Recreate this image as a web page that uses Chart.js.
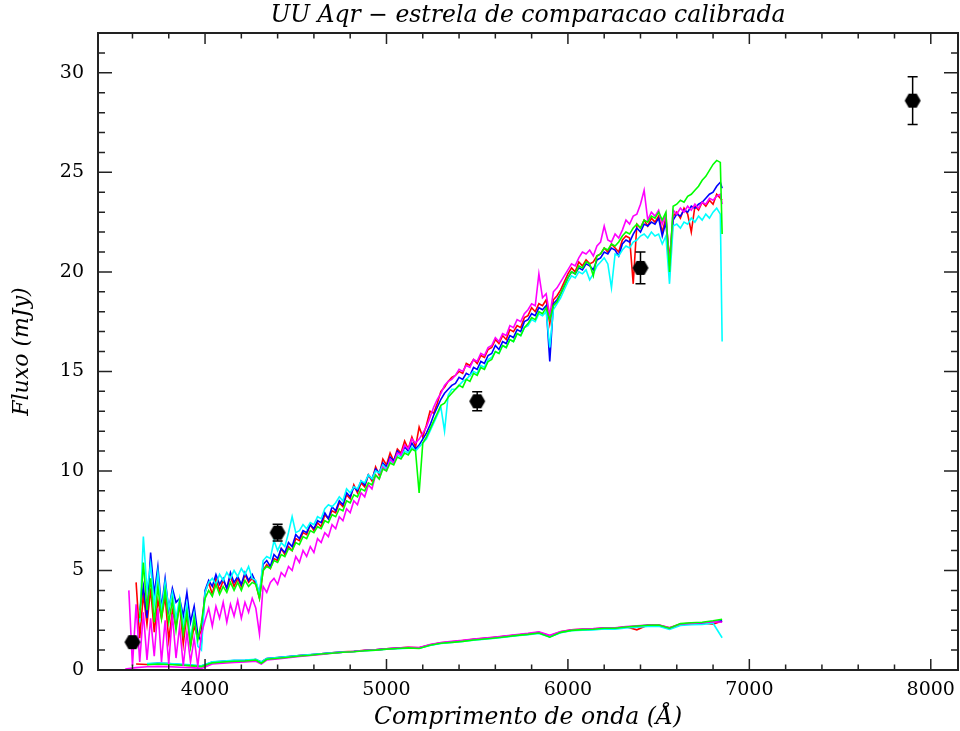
<!DOCTYPE html>
<html><head><meta charset="utf-8">
<script src="https://cdn.jsdelivr.net/npm/chart.js@4/dist/chart.umd.min.js"></script>
<style>html,body{margin:0;padding:0;background:#fff}canvas{display:block}</style>
</head><body>
<canvas id="c" width="960" height="731"></canvas>
<script>
// ---- data (wavelength in Angstrom, flux in mJy) ----
const lamU=[3580,3600,3620,3640,3660,3680,3700,3720,3740,3760,
3780,3800,3820,3840,3860,3880,3900,3920,3940,3960,
3980,4000,4020,4040,4060,4080,4100,4120,4140,4160,
4180,4200,4220,4240,4260,4280,4300,4320,4340,4360,
4380,4400,4420,4440,4460,4480,4500,4520,4540,4560,
4580,4600,4620,4640,4660,4680,4700,4720,4740,4760,
4780,4800,4820,4840,4860,4880,4900,4920,4940,4960,
4980,5000,5020,5040,5060,5080,5100,5120,5140,5160,
5180,5200,5220,5240,5260,5280,5300,5320,5340,5360,
5380,5400,5420,5440,5460,5480,5500,5520,5540,5560,
5580,5600,5620,5640,5660,5680,5700,5720,5740,5760,
5780,5800,5820,5840,5860,5880,5900,5920,5940,5960,
5980,6000,6020,6040,6060,6080,6100,6120,6140,6160,
6180,6200,6220,6240,6260,6280,6300,6320,6340,6360,
6380,6400,6420,6440,6460,6480,6500,6520,6540,6560,
6580,6600,6620,6640,6660,6680,6700,6720,6740,6760,
6780,6800,6820,6840,6850];
const redU=[null,null,4.4,1.6,3.8,2.3,4.1,1.9,3.5,2.6,
3.7,1.5,3.0,2.2,3.3,1.3,2.8,1.2,2.2,1.6,
2.0,3.9,4.4,3.8,4.6,4.0,4.5,4.1,4.7,4.2,
4.6,4.2,4.8,4.4,4.6,4.3,3.6,5.0,5.3,5.1,
5.6,5.5,6.1,5.8,6.2,6.0,6.6,6.5,6.9,6.8,
7.3,7.0,7.4,7.2,7.8,7.6,8.0,7.9,8.4,8.2,
8.8,8.6,9.3,8.9,9.4,9.2,9.8,9.5,10.2,9.8,
10.6,10.3,10.9,10.5,11.1,10.9,11.5,11.1,11.7,11.2,
12.2,11.7,12.3,13.0,12.9,13.4,14.0,14.2,14.5,14.7,
14.8,15.0,14.9,15.4,15.3,15.6,15.4,15.8,15.7,16.1,
16.2,16.6,16.4,16.8,16.6,17.1,17.0,17.3,17.2,17.7,
17.8,18.2,18.0,18.4,18.3,18.6,17.4,18.6,18.8,19.1,
19.5,19.9,20.2,20.0,20.5,20.3,20.6,20.4,20.5,20.8,
20.9,21.2,21.0,21.4,21.2,21.0,21.6,21.8,21.7,19.4,
22.4,22.2,22.6,22.3,22.7,22.5,22.8,22.0,22.7,20.6,
22.8,23.0,22.7,23.2,22.9,22.0,23.3,23.1,23.5,23.3,
23.6,23.4,23.9,23.7,23.6];
const blueU=[null,null,null,3.0,4.2,2.6,5.9,3.8,5.2,3.1,
4.6,3.0,4.1,3.4,3.6,2.7,3.9,2.4,3.2,1.8,
1.4,4.0,4.5,4.2,4.8,4.3,4.6,4.1,4.9,4.4,
4.7,4.3,4.9,4.5,4.8,4.4,3.8,5.3,5.5,5.2,
5.8,5.6,6.1,5.9,6.4,6.2,6.8,6.6,7.0,6.9,
7.3,7.1,7.5,7.4,7.9,7.6,8.2,8.0,8.5,8.3,
8.9,8.7,9.2,9.0,9.5,9.3,9.8,9.6,10.1,9.9,
10.4,10.2,10.7,10.5,11.0,10.8,11.2,11.0,11.4,11.1,
11.3,11.6,11.9,12.3,12.8,13.2,13.6,13.9,14.1,14.3,
14.4,14.7,14.6,14.9,14.8,15.2,15.1,15.5,15.4,15.8,
15.9,16.3,16.1,16.5,16.4,16.8,16.7,17.1,17.0,17.5,
17.6,17.9,17.8,18.2,18.1,18.3,15.5,18.4,18.6,18.9,
19.3,19.7,20.0,19.9,20.2,20.1,20.4,20.3,20.1,20.6,
20.7,21.0,20.9,21.2,21.1,20.8,21.4,21.6,21.5,21.9,
22.2,22.0,22.4,22.3,22.5,22.4,22.7,21.8,22.5,20.3,
22.6,22.9,22.8,23.1,23.0,23.3,23.2,23.4,23.5,23.7,
23.9,24.0,24.3,24.5,24.2];
const cyanU=[null,null,null,2.4,6.7,4.0,5.3,3.3,4.9,2.9,
4.4,3.1,3.9,2.6,3.6,2.2,3.3,1.5,2.8,1.2,
1.0,3.9,4.4,4.6,4.3,4.8,4.5,4.9,4.6,5.0,
4.7,5.1,4.8,5.2,4.6,4.5,3.8,5.5,5.7,5.6,
6.5,6.0,6.4,6.2,6.9,7.7,6.9,7.0,7.3,7.1,
7.4,7.3,7.7,7.6,8.1,8.3,8.2,8.4,8.7,8.5,
9.1,8.9,9.2,9.1,9.5,9.4,9.8,9.6,10.0,9.9,
10.3,10.1,10.5,10.4,10.8,10.7,11.0,10.9,11.2,11.0,
11.2,11.4,11.6,12.0,12.4,12.8,13.2,12.0,13.8,14.1,
14.1,14.3,14.5,14.6,14.8,15.0,14.9,15.3,15.2,15.6,
15.7,16.0,15.9,16.3,16.2,16.6,16.5,16.9,16.8,17.2,
17.3,17.6,17.5,17.9,17.8,18.0,16.2,18.1,18.4,18.7,
19.1,19.5,19.8,19.7,20.0,19.9,20.1,19.6,19.9,20.3,
20.5,20.7,20.4,19.2,20.9,20.8,21.1,21.3,21.2,21.5,
21.6,21.8,21.9,21.7,22.0,21.8,21.9,21.4,21.8,19.4,
22.3,22.4,22.2,22.5,22.4,22.7,22.5,22.8,22.6,22.9,
22.7,23.0,23.2,22.9,16.5];
const magentaU=[4.0,0.2,3.3,0.4,2.9,0.5,2.6,0.7,3.1,0.4,
2.5,0.3,2.8,0.6,2.2,0.2,1.9,0.4,1.6,0.2,
1.8,2.5,3.1,2.2,3.2,2.6,3.4,2.4,3.3,2.7,
3.5,2.6,3.4,2.9,3.6,3.1,1.8,4.2,3.9,4.4,
4.6,4.3,4.9,4.7,5.2,5.0,5.7,5.4,6.0,5.7,
6.2,5.9,6.6,6.4,6.9,6.7,7.3,7.1,7.7,7.5,
8.1,7.9,8.5,8.3,8.9,8.7,9.3,9.1,9.8,9.6,
10.2,10.0,10.6,10.4,10.9,10.8,11.3,11.1,11.6,11.4,
11.6,11.9,12.2,12.7,13.2,13.6,13.9,14.3,14.5,14.6,
14.8,15.1,15.0,15.3,15.2,15.6,15.5,15.9,15.8,16.2,
16.3,16.7,16.5,16.9,16.8,17.3,17.2,17.6,17.5,17.9,
18.1,18.4,18.3,19.9,18.7,18.9,17.8,19.0,19.2,19.5,
19.8,20.1,20.4,20.3,20.7,21.0,20.9,21.1,20.8,21.3,
21.5,22.3,21.6,21.5,21.9,21.7,22.1,22.6,22.4,22.8,
22.9,23.4,24.1,22.6,23.0,22.8,23.1,22.4,22.9,20.3,
23.1,22.9,23.2,23.0,23.3,23.1,23.4,23.2,23.5,23.4,
23.7,23.6,23.8,23.9,23.4];
const greenU=[null,null,null,2.6,5.4,3.0,4.6,2.4,4.2,2.6,
4.0,2.4,3.5,2.0,3.4,1.8,2.9,1.2,2.6,1.5,
2.4,3.6,4.0,3.7,4.3,3.8,4.2,3.9,4.4,4.0,
4.4,4.0,4.5,4.2,4.4,4.3,3.6,5.0,5.2,5.1,
5.5,5.4,5.8,5.7,6.1,6.0,6.4,6.3,6.7,6.6,
7.0,6.9,7.2,7.1,7.5,7.4,7.8,7.7,8.1,8.0,
8.5,8.4,8.8,8.7,9.1,9.0,9.4,9.3,9.8,9.6,
10.1,10.0,10.4,10.3,10.7,10.6,10.9,10.8,11.1,11.0,
8.9,11.4,11.7,12.1,12.5,12.9,13.3,13.4,13.7,13.9,
14.1,14.3,14.2,14.6,14.5,14.9,14.8,15.2,15.1,15.5,
15.6,16.0,15.9,16.3,16.2,16.6,16.5,16.9,16.8,17.2,
17.4,17.7,17.6,18.0,17.9,18.2,17.6,18.3,18.5,18.9,
19.3,19.7,20.0,19.9,20.3,20.2,20.5,20.4,19.8,20.8,
20.9,21.2,21.1,21.4,21.3,21.5,21.8,22.0,21.9,22.2,
22.4,22.2,22.6,22.5,22.8,22.7,23.0,22.6,23.0,20.0,
23.3,23.4,23.6,23.5,23.8,23.9,24.1,24.3,24.6,24.8,
25.1,25.4,25.6,25.5,21.9];

const lamL=[3560,3620,3680,3740,3800,3860,3920,3980,4040,4100,
4160,4220,4280,4310,4340,4400,4460,4520,4580,4640,
4700,4760,4820,4880,4940,5000,5060,5120,5180,5240,
5300,5360,5420,5480,5540,5600,5660,5720,5780,5840,
5900,5960,6020,6080,6140,6200,6260,6320,6380,6440,
6500,6560,6620,6680,6740,6800,6850];
const redL=[null,0.30,0.28,0.32,0.30,0.26,0.22,0.18,0.38,0.42,
0.46,0.47,0.52,0.38,0.56,0.61,0.66,0.72,0.76,0.82,
0.86,0.91,0.94,0.99,1.02,1.07,1.10,1.14,1.12,1.27,
1.37,1.42,1.48,1.54,1.59,1.64,1.70,1.76,1.82,1.89,
1.72,1.92,2.02,2.05,2.06,2.12,2.11,2.17,2.02,2.26,
2.26,2.12,2.31,2.34,2.36,2.30,2.46];
const blueL=[null,null,0.30,0.34,0.32,0.28,0.24,0.20,0.40,0.44,
0.48,0.48,0.53,0.40,0.57,0.62,0.67,0.72,0.77,0.81,
0.86,0.90,0.93,0.98,1.01,1.06,1.09,1.12,1.11,1.26,
1.36,1.41,1.46,1.53,1.58,1.63,1.69,1.75,1.80,1.88,
1.68,1.90,2.00,2.03,2.05,2.10,2.10,2.15,2.20,2.24,
2.25,2.08,2.30,2.33,2.36,2.42,2.47];
const cyanL=[null,null,0.32,0.35,0.33,0.30,0.26,0.21,0.41,0.45,
0.49,0.50,0.54,0.40,0.58,0.63,0.68,0.73,0.77,0.82,
0.86,0.90,0.93,0.97,1.00,1.04,1.07,1.10,1.09,1.23,
1.33,1.38,1.43,1.50,1.55,1.60,1.66,1.72,1.77,1.84,
1.66,1.87,1.97,2.00,2.01,2.06,2.05,2.11,2.15,2.19,
2.20,2.04,2.24,2.27,2.29,2.35,1.62];
const magentaL=[0.05,0.12,0.16,0.18,0.17,0.14,0.12,0.08,0.30,0.34,
0.38,0.40,0.44,0.30,0.50,0.56,0.62,0.68,0.73,0.78,
0.84,0.89,0.93,0.98,1.01,1.06,1.10,1.14,1.13,1.28,
1.38,1.44,1.49,1.56,1.61,1.66,1.72,1.78,1.84,1.92,
1.74,1.93,2.02,2.06,2.08,2.12,2.12,2.18,2.22,2.26,
2.27,2.12,2.31,2.34,2.37,2.43,2.40];
const greenL=[null,null,0.26,0.30,0.28,0.25,0.22,0.17,0.36,0.40,
0.44,0.45,0.50,0.34,0.54,0.59,0.64,0.70,0.74,0.80,
0.84,0.89,0.92,0.97,1.00,1.05,1.08,1.11,1.08,1.24,
1.34,1.39,1.44,1.51,1.56,1.61,1.67,1.74,1.79,1.86,
1.65,1.89,1.99,2.03,2.05,2.10,2.10,2.16,2.21,2.25,
2.26,2.10,2.33,2.37,2.40,2.47,2.55];

const photLam=[3600,4400,5500,6400,7900];
const photFlux=[1.4,6.9,13.5,20.2,28.6];
const photErr=[0,0.42,0.48,0.8,1.2];

const xTickLabels=[4000,5000,6000,7000,8000];
const yTickLabels=[0,5,10,15,20,25,30];

// ---- helpers ----
function pts(xs,ys){const o=[];for(let i=0;i<xs.length;i++){if(ys[i]!==null)o.push({x:xs[i],y:ys[i]});}return o;}
function hexImg(r){const c=document.createElement('canvas');c.width=c.height=2*r+2;const g=c.getContext('2d');g.fillStyle='#000';g.beginPath();for(let i=0;i<6;i++){const a=i*Math.PI/3;const px=r+1+r*Math.cos(a),py=r+1+r*Math.sin(a);if(i)g.lineTo(px,py);else g.moveTo(px,py);}g.closePath();g.fill();return c;}
const LW=1.6;
function spec(data,color){return {data:data,borderColor:color,backgroundColor:color,borderWidth:LW,pointRadius:0,showLine:true,tension:0,fill:false};}
const FONT="'DejaVu Serif', 'Liberation Serif', serif";
const PLOT_RIGHT=958;

const fixRight={id:'fixRight',afterLayout(chart){
  const a=chart.chartArea;a.right=PLOT_RIGHT;a.width=a.right-a.left;
  const x=chart.scales.x;x.right=PLOT_RIGHT;x.width=x.right-x.left;x.configure();
  const t=chart.titleBlock;if(t){t.right=PLOT_RIGHT;t.width=t.right-t.left;}
}};

const errBars={id:'errBars',afterDatasetsDraw(chart){
  const {ctx,scales:{x,y}}=chart;ctx.save();ctx.strokeStyle='#000';ctx.lineWidth=1.5;
  for(let i=0;i<photLam.length;i++){if(!photErr[i])continue;
    const px=x.getPixelForValue(photLam[i]);
    const y1=y.getPixelForValue(photFlux[i]-photErr[i]),y2=y.getPixelForValue(photFlux[i]+photErr[i]);
    ctx.beginPath();ctx.moveTo(px,y1);ctx.lineTo(px,y2);
    ctx.moveTo(px-5,y1);ctx.lineTo(px+5,y1);ctx.moveTo(px-5,y2);ctx.lineTo(px+5,y2);ctx.stroke();}
  ctx.restore();}};

const frame={id:'frame',afterDatasetsDraw(chart){
  const {ctx,chartArea:a,scales:{x,y}}=chart;ctx.save();ctx.strokeStyle='#222';ctx.lineWidth=1.5;ctx.beginPath();
  for(let v=3600;v<=x.max;v+=200){const px=x.getPixelForValue(v);const L=(v%1000===0)?11:5.5;
    ctx.moveTo(px,a.bottom);ctx.lineTo(px,a.bottom-L);ctx.moveTo(px,a.top);ctx.lineTo(px,a.top+L);}
  for(let v=1;v<=y.max;v++){const py=y.getPixelForValue(v);const L=(v%5===0)?14:7;
    ctx.moveTo(a.left,py);ctx.lineTo(a.left+L,py);ctx.moveTo(a.right,py);ctx.lineTo(a.right-L,py);}
  ctx.stroke();ctx.lineWidth=2;ctx.strokeRect(a.left,a.top,a.right-a.left,a.bottom-a.top);ctx.restore();}};

new Chart(document.getElementById('c'),{
  type:'scatter',
  data:{datasets:[
    {data:pts(photLam,photFlux),pointStyle:hexImg(8),pointRadius:8,showLine:false,backgroundColor:'#000',borderColor:'#000'},
    spec(pts(lamU,greenU),'#00ff00'),
    spec(pts(lamU,magentaU),'#ff00ff'),
    spec(pts(lamU,cyanU),'#00ffff'),
    spec(pts(lamU,blueU),'#0000ff'),
    spec(pts(lamU,redU),'#ff0000'),
    spec(pts(lamL,greenL),'#00ff00'),
    spec(pts(lamL,magentaL),'#ff00ff'),
    spec(pts(lamL,cyanL),'#00ffff'),
    spec(pts(lamL,blueL),'#0000ff'),
    spec(pts(lamL,redL),'#ff0000')
  ]},
  options:{
    responsive:false,animation:false,devicePixelRatio:1,
    layout:{padding:{left:0,right:2,top:0,bottom:0}},
    plugins:{legend:{display:false},tooltip:{enabled:false},
      title:{display:true,fullSize:false,text:'UU Aqr \u2212 estrela de comparacao calibrada',color:'#000',
        font:{family:FONT,size:23.5,style:'italic',weight:'normal',lineHeight:1.2},padding:{top:2,bottom:2.8}}},
    scales:{
      x:{type:'linear',min:3410,max:8150,
        grid:{display:false,drawTicks:true,tickLength:9,tickColor:'rgba(0,0,0,0)'},border:{display:false},
        afterBuildTicks:(s)=>{s.ticks=xTickLabels.map(v=>({value:v}));},
        ticks:{autoSkip:false,maxRotation:0,padding:0,color:'#000',
          font:{family:FONT,size:19},callback:(v)=>String(v)},
        title:{display:true,text:'Comprimento de onda (\u00c5)',color:'#000',
          font:{family:FONT,size:23.5,style:'italic',lineHeight:1},padding:{top:0,bottom:1}},
        afterFit:(s)=>{s.height=61;s.paddingLeft=0;s.paddingRight=0;}},
      y:{type:'linear',min:0,max:32,
        grid:{display:false,drawTicks:false},border:{display:false},
        afterBuildTicks:(s)=>{s.ticks=yTickLabels.map(v=>({value:v}));},
        ticks:{autoSkip:false,padding:14,color:'#000',
          font:{family:FONT,size:19},callback:(v)=>String(v)},
        title:{display:true,text:'Fluxo (mJy)',color:'#000',
          font:{family:FONT,size:22,style:'italic',lineHeight:1},padding:{top:11,bottom:0}},
        afterFit:(s)=>{s.width=98;s.paddingTop=0;s.paddingBottom=0;}}
    }
  },
  plugins:[fixRight,errBars,frame]
});
</script>
</body></html>
